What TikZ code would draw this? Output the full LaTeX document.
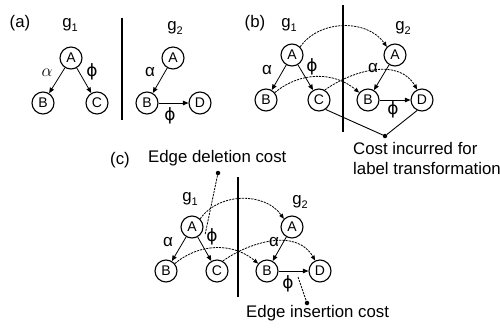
\documentclass[tikz,border=0pt]{standalone}
\usepackage{fontspec}
\setmainfont{Liberation Sans}
\newfontfamily\greekfont{DejaVu Sans}
\usetikzlibrary{arrows.meta}
\newcommand\glab[1]{g\raisebox{-0.45ex}{\fontsize{11}{11}\selectfont #1}}
\newcommand\phil{{\greekfont ϕ}}
\begin{document}
\begin{tikzpicture}[x=1pt,y=-1pt,
  vert/.style={circle,draw,line width=1.1pt,minimum size=22pt,inner sep=0pt,font=\fontsize{14}{14}\selectfont},
  edge/.style={line width=0.8pt,-{Triangle[length=5.5pt,width=4.5pt]}},
  match/.style={line width=0.8pt,dash pattern=on 2.2pt off 1pt,-{Triangle[length=5pt,width=4pt]}},
  pointer/.style={line width=0.8pt,dash pattern=on 2.2pt off 1pt},
  costline/.style={line width=0.9pt},
  bar/.style={line width=2.8pt},
  txt/.style={font=\fontsize{16.8}{16.8}\selectfont,inner sep=0pt},
  lbl/.style={font=\fontsize{17}{17}\selectfont,inner sep=0pt},
  dotmark/.style={circle,fill,inner sep=0pt,minimum size=4.5pt},
]
\useasboundingbox (0,0) rectangle (500,327);

% ---------------- (a) ----------------
\node[txt] (aTag) at (20,23) {(a)};
\node[txt] (aG1) at (70,25) {\glab{1}};
\node[txt] (aG2) at (175,28) {\glab{2}};
\coordinate (aBarT) at (122,18);
\coordinate (aBarB) at (122,120);
\draw[bar] (aBarT) -- (aBarB);
\node[vert] (aA1) at (71,58) {A};
\node[vert] (aB1) at (43,103) {B};
\node[vert] (aC1) at (97,103) {C};
\node[vert] (aA2) at (173,58) {A};
\node[vert] (aB2) at (147,103) {B};
\node[vert] (aD2) at (200,103) {D};
\draw[edge] (aA1) -- (aB1);
\draw[edge] (aA1) -- (aC1);
\draw[edge] (aA2) -- (aB2);
\draw[edge] (aB2) -- (aD2);
\node[lbl] (aL1) at (47,73) {$\alpha$};
\node[lbl] (aL2) at (92,72) {\phil};
\node[lbl] (aL3) at (150,72) {α};
\node[lbl] (aL4) at (170,116) {\phil};

% ---------------- (b) ----------------
\node[txt] (bTag) at (255,23) {(b)};
\node[txt] (bG1) at (289,25) {\glab{1}};
\node[txt] (bG2) at (403,28) {\glab{2}};
\coordinate (bBarT) at (343,5);
\coordinate (bBarB) at (343,132);
\draw[bar] (bBarT) -- (bBarB);
\node[vert] (bA1) at (292,55) {A};
\node[vert] (bB1) at (266,100) {B};
\node[vert] (bC1) at (319,100) {C};
\node[vert] (bA2) at (395,55) {A};
\node[vert] (bB2) at (368,100) {B};
\node[vert] (bD2) at (422,100) {D};
\draw[edge] (bA1) -- (bB1);
\draw[edge] (bA1) -- (bC1);
\draw[edge] (bA2) -- (bB2);
\draw[edge] (bB2) -- (bD2);
\node[lbl] (bL1) at (267,70) {α};
\node[lbl] (bL2) at (312,67) {\phil};
\node[lbl] (bL3) at (373,68) {α};
\node[lbl] (bL4) at (393,110) {\phil};
\draw[match] (bA1.45) to[out=55,in=125] (bA2.135);
\draw[match] (bB1.40) to[out=40,in=140] (bB2.140);
\draw[match] (bC1.60) to[out=35,in=120] (bD2.115);
\node[dotmark] (bDot) at (385,136) {};
\draw[costline] (bC1.-55) -- (bDot);
\draw[costline] (bD2.-115) -- (bDot);
\node[txt,anchor=west] (bCost1) at (353,148) {Cost incurred for};
\node[txt,anchor=west] (bCost2) at (353,168) {label transformation};

% ---------------- (c) ----------------
\node[txt] (cTag) at (120,160) {(c)};
\node[txt,anchor=west] (cDel) at (148,158) {Edge deletion cost};
\node[txt] (cG1) at (190,199) {\glab{1}};
\node[txt] (cG2) at (300,202) {\glab{2}};
\coordinate (cBarT) at (238,177);
\coordinate (cBarB) at (238,297);
\draw[bar] (cBarT) -- (cBarB);
\node[vert] (cA1) at (192,227) {A};
\node[vert] (cB1) at (166,271) {B};
\node[vert] (cC1) at (217,271) {C};
\node[vert] (cA2) at (292,227) {A};
\node[vert] (cB2) at (267,271) {B};
\node[vert] (cD2) at (320,271) {D};
\draw[edge] (cA1) -- (cB1);
\draw[edge] (cA1) -- (cC1);
\draw[edge] (cA2) -- (cB2);
\draw[edge] (cB2) -- (cD2);
\node[lbl] (cL1) at (168,242) {α};
\node[lbl] (cL2) at (212,237) {\phil};
\node[lbl] (cL3) at (274,242) {α};
\node[lbl] (cL4) at (288,284) {\phil};
\draw[match] (cA1.45) to[out=55,in=125] (cA2.135);
\draw[match] (cB1.40) to[out=40,in=140] (cB2.140);
\draw[match] (cC1.60) to[out=35,in=120] (cD2.115);
\node[dotmark] (cDelDot) at (218,173) {};
\coordinate (cDelEnd) at (205,235);
\draw[pointer] (cDelDot) -- (cDelEnd);
\coordinate (cInsStart) at (298,277);
\node[dotmark] (cInsDot) at (307,303) {};
\draw[pointer] (cInsStart) -- (cInsDot);
\node[txt,anchor=west] (cIns) at (246,313) {Edge insertion cost};
\end{tikzpicture}
\end{document}
